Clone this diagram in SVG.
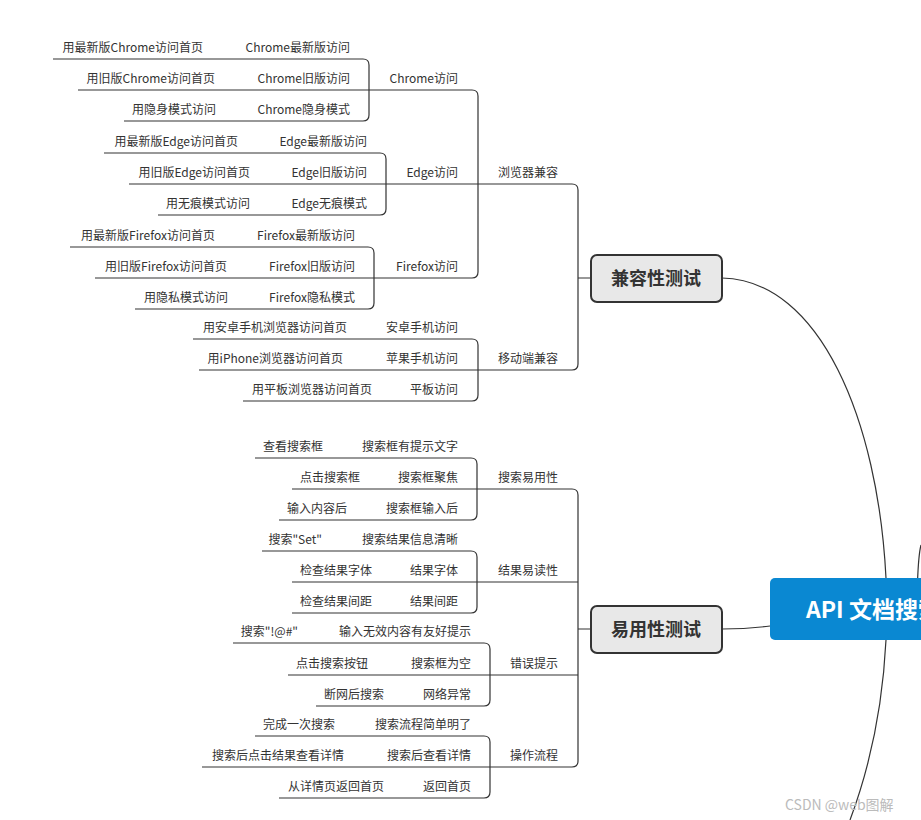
<svg xmlns="http://www.w3.org/2000/svg" width="921" height="820" viewBox="0 0 921 820">
<style>
.t{font-family:"Noto Sans CJK SC","Liberation Sans",sans-serif;font-size:12px;fill:#333;text-anchor:end}
.l{fill:none;stroke:#333;stroke-width:1.2}
.b{fill:#e8e8e8;stroke:#333;stroke-width:2}
.bt{font-family:"Noto Sans CJK SC","Liberation Sans",sans-serif;font-size:18px;font-weight:bold;fill:#333;text-anchor:middle}
</style>
<rect width="921" height="820" fill="#fff"/>
<g id="connectors" class="l">
<path d="M53,59H363M78,90H472M124,121H363M104,153H380M129,184H572M158,215H380M70,247H368M95,278H472M135,309H368M193,339H472M199,370H572M243,401H472M578,278H591"/>
<path d="M363,59Q369,59 369,65V115Q369,121 363,121M380,153Q386,153 386,159V209Q386,215 380,215M368,247Q374,247 374,253V303Q374,309 368,309M472,90Q478,90 478,96V272Q478,278 472,278M472,339Q478,339 478,345V395Q478,401 472,401M572,184Q578,184 578,190V364Q578,370 572,370"/>
<path d="M255,458H471M292,489H572M279,520H471M262,551H471M292,582H578M292,613H471M233,643H484M288,675H578M316,706H484M255,736H484M202,767H572M279,798H484M578,629H591"/>
<path d="M471,458Q477,458 477,464V514Q477,520 471,520M471,551Q477,551 477,557V607Q477,613 471,613M484,643Q490,643 490,649V700Q490,706 484,706M484,736Q490,736 490,742V792Q490,798 484,798M572,489Q578,489 578,495V761Q578,767 572,767"/>
<path d="M722,278C820,280 878,420 886,578M722,629C745,629 755,628 770,626M886,640C882,720 865,780 850,820M921,545C917,560 916,620 918,640"/>
</g>
<g id="leaves">
<text class="t" x="203" y="52">用最新版Chrome访问首页</text><text class="t" x="350" y="52">Chrome最新版访问</text>
<text class="t" x="215" y="83">用旧版Chrome访问首页</text><text class="t" x="350" y="83">Chrome旧版访问</text>
<text class="t" x="216" y="114">用隐身模式访问</text><text class="t" x="350" y="114">Chrome隐身模式</text>
<text class="t" x="238" y="146">用最新版Edge访问首页</text><text class="t" x="367" y="146">Edge最新版访问</text>
<text class="t" x="250" y="177">用旧版Edge访问首页</text><text class="t" x="367" y="177">Edge旧版访问</text>
<text class="t" x="250" y="208">用无痕模式访问</text><text class="t" x="367" y="208">Edge无痕模式</text>
<text class="t" x="215" y="240">用最新版Firefox访问首页</text><text class="t" x="355" y="240">Firefox最新版访问</text>
<text class="t" x="227" y="271">用旧版Firefox访问首页</text><text class="t" x="355" y="271">Firefox旧版访问</text>
<text class="t" x="228" y="302">用隐私模式访问</text><text class="t" x="355" y="302">Firefox隐私模式</text>
<text class="t" x="458" y="83">Chrome访问</text><text class="t" x="458" y="177">Edge访问</text><text class="t" x="458" y="271">Firefox访问</text>
<text class="t" x="347" y="332">用安卓手机浏览器访问首页</text><text class="t" x="458" y="332">安卓手机访问</text>
<text class="t" x="343" y="363">用iPhone浏览器访问首页</text><text class="t" x="458" y="363">苹果手机访问</text>
<text class="t" x="372" y="394">用平板浏览器访问首页</text><text class="t" x="458" y="394">平板访问</text>
<text class="t" x="558" y="177">浏览器兼容</text><text class="t" x="558" y="363">移动端兼容</text>
<text class="t" x="323" y="451">查看搜索框</text><text class="t" x="458" y="451">搜索框有提示文字</text>
<text class="t" x="360" y="482">点击搜索框</text><text class="t" x="458" y="482">搜索框聚焦</text>
<text class="t" x="347" y="513">输入内容后</text><text class="t" x="458" y="513">搜索框输入后</text>
<text class="t" x="322" y="544">搜索"Set"</text><text class="t" x="458" y="544">搜索结果信息清晰</text>
<text class="t" x="372" y="575">检查结果字体</text><text class="t" x="458" y="575">结果字体</text>
<text class="t" x="372" y="606">检查结果间距</text><text class="t" x="458" y="606">结果间距</text>
<text class="t" x="298" y="636">搜索"!@#"</text><text class="t" x="471" y="636">输入无效内容有友好提示</text>
<text class="t" x="368" y="668">点击搜索按钮</text><text class="t" x="471" y="668">搜索框为空</text>
<text class="t" x="384" y="699">断网后搜索</text><text class="t" x="471" y="699">网络异常</text>
<text class="t" x="335" y="729">完成一次搜索</text><text class="t" x="471" y="729">搜索流程简单明了</text>
<text class="t" x="344" y="760">搜索后点击结果查看详情</text><text class="t" x="471" y="760">搜索后查看详情</text>
<text class="t" x="384" y="791">从详情页返回首页</text><text class="t" x="471" y="791">返回首页</text>
<text class="t" x="558" y="482">搜索易用性</text><text class="t" x="558" y="575">结果易读性</text><text class="t" x="558" y="668">错误提示</text><text class="t" x="558" y="760">操作流程</text>
</g>
<g id="compat"><rect class="b" x="591" y="255" width="131" height="47" rx="6"/><text class="bt" x="656" y="285">兼容性测试</text></g>
<g id="usability"><rect class="b" x="591" y="606" width="131" height="47" rx="6"/><text class="bt" x="656" y="636">易用性测试</text></g>
<g id="root"><rect x="770" y="578" width="170" height="62" rx="5" fill="#0a88d2"/><text x="806" y="618" font-family="'Noto Sans CJK SC','Liberation Sans',sans-serif" font-size="23" font-weight="bold" fill="#fff">API 文档搜索</text></g>
<text x="785" y="810" font-family="'Noto Sans CJK SC','Liberation Sans',sans-serif" font-size="14" fill="#bbb">CSDN @web图解</text>
</svg>
